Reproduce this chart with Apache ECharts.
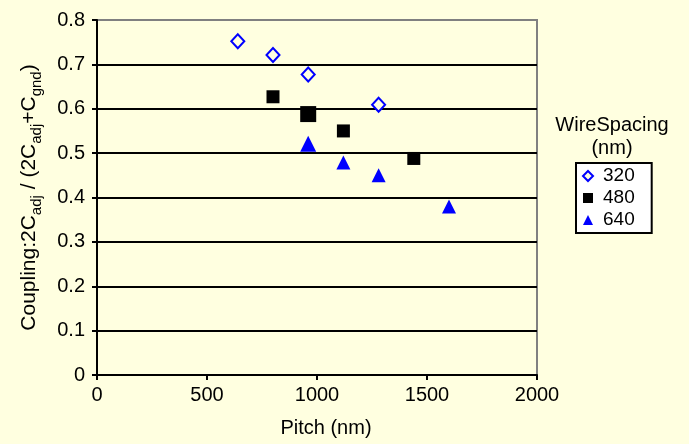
<!DOCTYPE html>
<html>
<head>
<meta charset="utf-8">
<script src="https://cdn.jsdelivr.net/npm/echarts@6/dist/echarts.min.js"></script>
<style>
html,body{margin:0;padding:0;background:#FFFFE0;}
#c{width:689px;height:444px;}
</style>
</head>
<body>
<div id="c"></div>
<script>
const xTicks = [0, 500, 1000, 1500, 2000];
const yTicks = [0, 0.1, 0.2, 0.3, 0.4, 0.5, 0.6, 0.7, 0.8];
const seriesNames = ['320', '480', '640'];
const pitch320 = [640, 800, 960, 1280];
const coup320 = [0.752, 0.721, 0.677, 0.609];
const pitch480 = [800, 960, 1120, 1440];
const coup480 = [0.627, 0.588, 0.550, 0.488];
const pitch640 = [960, 1120, 1280, 1600];
const coup640 = [0.521, 0.479, 0.450, 0.380];

const zip = (a, b) => a.map((v, i) => [v, b[i]]);
const FONT = 'Liberation Sans, Arial, sans-serif';
const chart = echarts.init(document.getElementById('c'));
chart.setOption({
  backgroundColor: '#FFFFE0',
  animation: false,
  textStyle: {fontFamily: FONT},
  grid: {
    left: 97, top: 20, width: 440, height: 355,
    show: true, backgroundColor: 'transparent',
    borderColor: '#808080', borderWidth: 2
  },
  graphic: [{
    type: 'text',
    x: 612, y: 114,
    style: {
      text: 'WireSpacing\n(nm)', fontFamily: FONT, fontSize: 20, fill: '#000',
      align: 'center', lineHeight: 23
    }
  }],
  legend: {
    orient: 'vertical',
    left: 576, top: 163,
    padding: [3, 17, 3, 6],
    itemGap: 2,
    itemWidth: 10, itemHeight: 10,
    backgroundColor: '#FFFFFF',
    borderColor: '#000', borderWidth: 2,
    textStyle: {fontSize: 19, lineHeight: 20, color: '#000', fontFamily: FONT, padding: [0, 0, 0, 5]},
    data: seriesNames
  },
  xAxis: {
    type: 'value', min: xTicks[0], max: xTicks[xTicks.length - 1], interval: 500,
    name: 'Pitch (nm)', nameLocation: 'middle', nameGap: 43,
    nameTextStyle: {fontSize: 20, color: '#000', padding: [0, 0, 0, 18]},
    axisLine: {show: true, onZero: false, lineStyle: {color: '#000', width: 2}},
    axisTick: {show: true, inside: false, length: 5, lineStyle: {color: '#000', width: 2}},
    axisLabel: {fontSize: 20, color: '#000', margin: 10, formatter: v => String(v)},
    splitLine: {show: false}
  },
  yAxis: {
    type: 'value', min: yTicks[0], max: yTicks[yTicks.length - 1], interval: 0.1,
    name: '{a|Coupling:2C}{s|adj}{a| / (2C}{s|adj}{a|+C}{s|gnd}{a|)}',
    nameLocation: 'middle', nameGap: 53,
    nameTextStyle: {
      color: '#000',
      rich: {
        a: {fontSize: 21, lineHeight: 21, verticalAlign: 'top', color: '#000', fontFamily: FONT},
        s: {fontSize: 15, lineHeight: 25, verticalAlign: 'bottom', color: '#000', fontFamily: FONT}
      }
    },
    axisLine: {show: true, onZero: false, lineStyle: {color: '#000', width: 2}},
    axisTick: {show: true, inside: false, length: 5, lineStyle: {color: '#000', width: 2}},
    axisLabel: {fontSize: 20, color: '#000', margin: 12,
      formatter: v => (Math.abs(v) < 1e-9 ? '0' : v.toFixed(1))},
    splitLine: {show: true, lineStyle: {color: ['#000','#000','#000','#000','#000','#000','#000','#000','#808080'], width: 2}}
  },
  series: [
    {
      name: seriesNames[0], type: 'scatter', data: zip(pitch320, coup320),
      symbol: 'diamond', symbolSize: [13, 14],
      itemStyle: {color: '#FFFFE0', borderColor: '#0000FF', borderWidth: 2, opacity: 1}
    },
    {
      name: seriesNames[1], type: 'scatter', data: zip(pitch480, coup480),
      symbol: 'rect', symbolSize: (v, p) => (p.dataIndex === 1 ? 16 : 13),
      itemStyle: {color: '#000000', opacity: 1}
    },
    {
      name: seriesNames[2], type: 'scatter', data: zip(pitch640, coup640),
      symbol: 'triangle', symbolSize: (v, p) => (p.dataIndex === 0 ? 16 : 14),
      itemStyle: {color: '#0000FF', opacity: 1}
    }
  ]
});
</script>
</body>
</html>
